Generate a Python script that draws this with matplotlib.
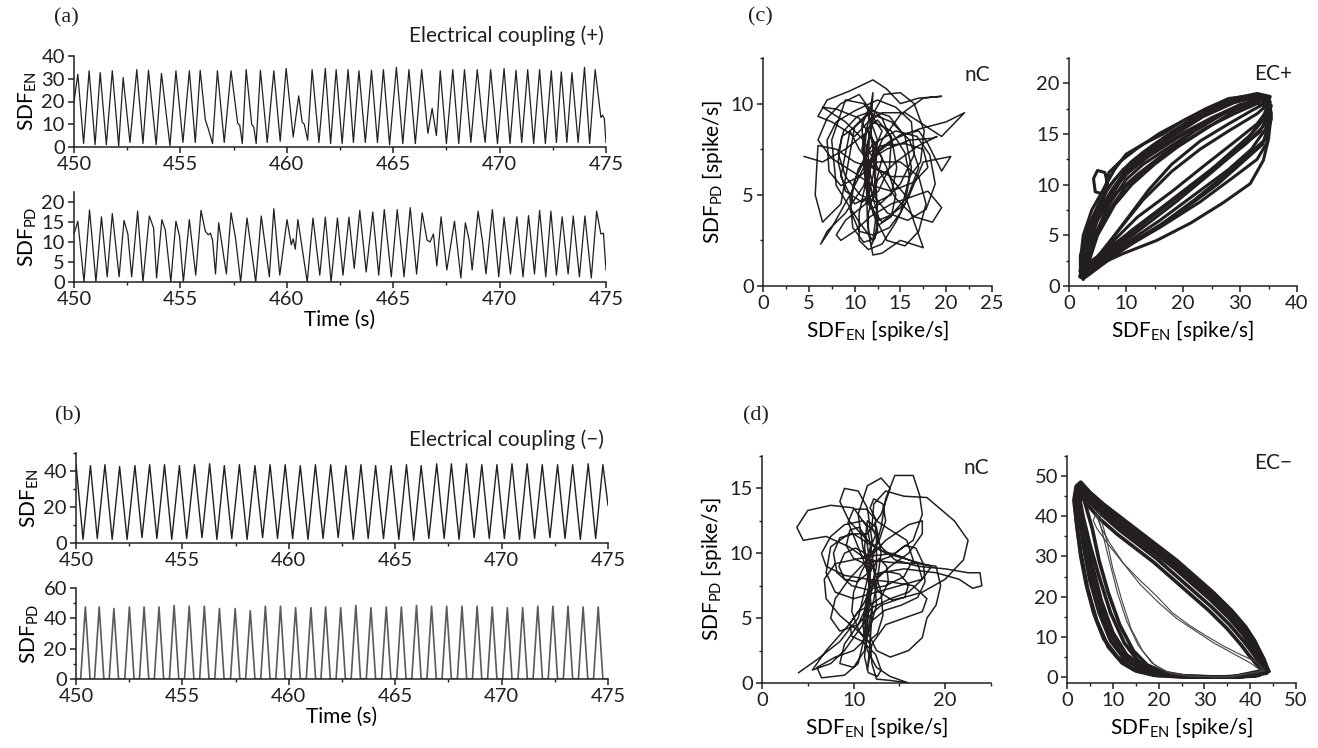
import numpy as np
import matplotlib
matplotlib.use("Agg")
import matplotlib.pyplot as plt
from matplotlib.ticker import MultipleLocator

plt.rcParams['font.family'] = ['Lato', 'DejaVu Sans']
plt.rcParams['mathtext.fontset'] = 'custom'
plt.rcParams['mathtext.rm'] = 'Lato'
plt.rcParams['mathtext.it'] = 'Lato:italic'
plt.rcParams['mathtext.bf'] = 'Lato:bold'

INK = '#231f20'
FS = 15
TICK_FS = 14.5

# ---------------- (a) electrical coupling (+), time traces ----------------
a_en_t = [450.00, 450.18, 450.45, 450.71, 450.99, 451.23, 451.52, 451.80, 452.10, 452.31,
          452.63, 452.95, 453.24, 453.50, 453.86, 454.11, 454.51, 454.79, 455.12, 455.42,
          455.70, 455.93, 456.17, 456.31, 456.51, 456.74, 457.06, 457.38, 457.69, 457.79,
          457.91, 458.09, 458.35, 458.45, 458.56, 458.76, 459.08, 459.39, 459.69, 459.97,
          460.30, 460.56, 460.72, 460.82, 460.98, 461.19, 461.51, 461.81, 462.06, 462.32,
          462.60, 462.88, 463.13, 463.39, 463.69, 463.98, 464.26, 464.54, 464.83, 465.15,
          465.45, 465.74, 466.04, 466.34, 466.63, 466.83, 467.03, 467.21, 467.50, 467.80,
          468.08, 468.35, 468.65, 468.95, 469.20, 469.32, 469.58, 469.90, 470.21, 470.49,
          470.77, 471.04, 471.32, 471.60, 471.88, 472.15, 472.43, 472.67, 472.90, 473.16,
          473.40, 473.69, 473.99, 474.23, 474.49, 474.76, 474.84, 474.92, 475.00]
a_en_v = [20, 32, 1.5, 33.5, 1, 32.7, 1, 33.5, 0.5, 30.5,
          2, 34, 1.5, 33.7, 1, 32.3, 0.5, 33.5, 2, 33.5,
          2, 33.7, 12, 8, 1.5, 33.5, 2, 33.5, 10.5, 9.5,
          1.5, 34, 10, 8.7, 1.5, 33.7, 2, 33.5, 2.5, 34.5,
          4.4, 22.5, 11, 10, 3, 34, 2, 34.5, 1.5, 34,
          1.5, 34, 2, 33.5, 2, 33.7, 2, 34, 1, 35,
          1.5, 34, 1.5, 34, 6, 17, 5, 33.5, 1.5, 34,
          1.5, 34, 2, 34, 11, 2, 34, 1.5, 34.5, 1.5,
          33.7, 2, 34, 1.5, 34, 1.5, 33.5, 2, 33, 2,
          32.7, 2, 35, 1.5, 34, 13, 14, 12.5, 2]

a_pd_t = [450.00, 450.18, 450.47, 450.73, 451.03, 451.29, 451.56, 451.80, 452.12, 452.35,
          452.53, 452.71, 452.99, 453.24, 453.54, 453.74, 453.88, 454.13, 454.29, 454.55,
          454.79, 454.96, 455.14, 455.42, 455.72, 455.97, 456.17, 456.31, 456.41, 456.51,
          456.65, 456.80, 457.16, 457.38, 457.59, 457.83, 458.13, 458.54, 458.80, 459.18,
          459.39, 459.67, 460.01, 460.21, 460.30, 460.40, 460.52, 460.96, 461.23, 461.55,
          461.81, 462.08, 462.38, 462.64, 462.92, 463.17, 463.43, 463.73, 464.04, 464.32,
          464.58, 464.91, 465.19, 465.51, 465.80, 466.10, 466.36, 466.59, 466.73, 466.89,
          467.05, 467.25, 467.52, 467.88, 468.18, 468.39, 468.57, 468.71, 468.99, 469.20,
          469.36, 469.66, 469.96, 470.21, 470.51, 470.81, 471.10, 471.36, 471.64, 471.88,
          472.17, 472.41, 472.67, 472.94, 473.22, 473.46, 473.75, 474.01, 474.31, 474.56,
          474.76, 474.88, 475.00]
a_pd_v = [12, 15.2, 0, 18, 0, 16.3, 1.3, 17.1, 1.3, 15.4,
          12, 1.3, 17.7, 0, 16.5, 13.5, 1, 15.6, 13, 0,
          15.2, 11.4, 0, 15.6, 1.7, 17.9, 12.7, 11.8, 12.2, 10.5,
          2, 14.8, 2, 17.3, 11, 0, 16, 0, 16.5, 1.3,
          18.3, 1.7, 15.6, 9.3, 10.8, 8.2, 15.6, 0, 16, 1.7,
          16.2, 0, 16, 1.7, 16.2, 3.4, 17.9, 2.5, 17.5, 1.7,
          18.1, 1.3, 18.1, 1.3, 18.6, 2, 17.3, 10.5, 10, 12,
          4, 16.3, 3, 15.2, 1, 14.8, 10.5, 3, 17.7, 10,
          2, 18.1, 1.3, 16.2, 2, 16.3, 1.3, 16.6, 2, 17.9,
          1.3, 17.7, 1.7, 16.3, 2, 16.5, 1.3, 16.5, 1, 17.7,
          12, 12.2, 3]

# ---------------- (b) electrical coupling (-), time traces ----------------
b_en_peak_t = [450.00, 450.68, 451.36, 452.05, 452.77, 453.46, 454.16, 454.86, 455.57, 456.28,
               456.97, 457.68, 458.41, 459.12, 459.83, 460.54, 461.25, 461.97, 462.68, 463.39,
               464.08, 464.81, 465.53, 466.22, 466.95, 467.64, 468.35, 469.07, 469.78, 470.49,
               471.20, 471.91, 472.63, 473.34, 474.07, 474.76]
b_en_peak_v = [44, 43, 43.5, 42.5, 43, 43.5, 43.5, 43, 43.5, 44,
               43, 43.5, 43, 43.5, 43.5, 43, 43.5, 43.5, 43, 43.5,
               43, 43, 43.5, 43, 44, 44, 44, 43.5, 43.5, 44,
               44, 43.5, 43.5, 43.5, 44, 43.5]
b_en_trough_t = [450.33, 451.00, 451.70, 452.40, 453.10, 453.80, 454.50, 455.20, 455.92, 456.62,
                 457.32, 458.04, 458.77, 459.47, 460.18, 460.90, 461.61, 462.32, 463.03, 463.73,
                 464.45, 465.17, 465.87, 466.58, 467.30, 468.00, 468.71, 469.42, 470.13, 470.84,
                 471.55, 472.27, 472.98, 473.70, 474.42]
b_en_trough_v = [2, 2.5, 2, 2, 3, 2.5, 2, 2.5, 3, 2,
                 2.5, 2, 3, 2.5, 2.5, 2, 2.5, 3, 2, 2.5,
                 2.5, 2, 1.5, 2.5, 2.5, 2, 3, 2.5, 2.5, 2,
                 2.5, 3, 2.5, 2, 2.5]
b_en_end = (475.0, 21)

b_pd_peak_t = [450.44, 451.09, 451.78, 452.51, 453.20, 453.90, 454.61, 455.32, 456.03, 456.74,
               457.48, 458.19, 458.90, 459.61, 460.32, 461.04, 461.73, 462.44, 463.15, 463.86,
               464.58, 465.29, 466.00, 466.71, 467.42, 468.14, 468.85, 469.56, 470.27, 470.99,
               471.70, 472.41, 473.12, 473.83, 474.54]
b_pd_peak_v = [47.5, 47.5, 46.5, 47.5, 47.5, 47.5, 48.5, 48, 48, 46.5,
               46.5, 45, 48, 48, 47, 47, 47.5, 47, 48.5, 47,
               47.5, 47.5, 48.5, 48, 48, 48, 48, 47.5, 47, 47,
               48, 48, 48, 47.5, 47.5]
b_pd_halfwidth = 0.22  # burst half-duration (s)

# ---------------- (c) phase plots, coupling (+) ----------------
c_nc_path = [(4.5, 7.1), (6.5, 6.8), (9, 7.5), (11.5, 8.5), (13, 7), (12, 5), (10, 4.5), (8.5, 6),
             (9.5, 8.5), (11.5, 9.5), (14, 9), (16, 8), (17, 6.5), (15.5, 4.5), (13, 3.5), (11.5, 4.5),
             (11, 6.5), (11.8, 8.8), (12, 10.6), (11.5, 9), (10, 8.2), (7.5, 9), (6, 9.3), (7, 10.2),
             (9.5, 10.7), (12, 11.3), (13.5, 10.8), (15, 10), (17, 10.3), (19.5, 10.4), (17.5, 10.3),
             (15, 9.4), (13, 8), (11.5, 6.3), (10.5, 4), (10.5, 2.5), (11.5, 2), (13, 2.3), (14.5, 3.5),
             (16, 5), (17.5, 6.8), (20.5, 7.1), (19.5, 6.3), (18, 7.8), (17, 8.5), (15, 8.3), (13, 7.5),
             (11.8, 7), (11, 5.5), (9, 4), (7, 3), (6.3, 2.3), (7.5, 3.2), (9.5, 5), (11.3, 6.8),
             (13.5, 7.5), (16, 8), (18.5, 8.1), (19, 8.2), (17, 7.7), (14.5, 6.8), (12.5, 5.8),
             (11.5, 4), (11.5, 3), (12, 1.7), (13, 1.8), (15, 2.5), (17.5, 2.1), (16.5, 3.5), (15.5, 5),
             (13.5, 6.2), (11.8, 6.5), (10, 6.8), (8, 7.5), (6, 7.7), (5.7, 5), (6.5, 3.5), (8.5, 4.5),
             (10, 8.7), (11.5, 9.4), (12.5, 8), (12, 6), (11.2, 4.5), (9, 3.6), (8, 2.8), (8.5, 2.5),
             (10, 3), (11.7, 3.8), (14, 4.5), (18, 5.2), (19.5, 4.3), (18.5, 3.5), (16.5, 3.8),
             (14.5, 4.8), (12.5, 6.5), (11, 8), (9, 9), (6.5, 9.8), (8, 9.7), (10.5, 9.2), (12, 8),
             (13.5, 6.5), (14.5, 5), (14, 3.8), (12.5, 3.3), (11.5, 5), (11.8, 7), (13, 8.5),
             (11, 10), (9, 10.2), (7.5, 8), (8, 5.5), (10.5, 3.5), (12, 2.5), (12.5, 4.5), (11.8, 6),
             (10.8, 7.5), (11.5, 9), (13, 9.5), (15.5, 9.5), (19.5, 8.2), (22, 9.5),
             (20, 9), (17, 8.6), (14, 8), (12, 7.2), (11.3, 5.5), (11.4, 3.5), (11.8, 2.2), (12.5, 3),
             (12.4, 5), (12, 7.5), (11.5, 9.8), (10.5, 10.5), (8.5, 10), (7, 9.2), (6, 8), (7.5, 7),
             (10, 6.2), (12, 5.5), (14, 5.2), (16.5, 5.7), (18, 6.5), (17.5, 7.5), (15.5, 7.8),
             (13, 7.7), (11.5, 7.3), (10, 5.8), (9.5, 4.2), (10.5, 3), (12, 2.8), (13.8, 3.2), (15, 4),
             (16, 6), (15.5, 7.3), (14, 8.5), (12, 9), (11, 8.2), (11.2, 6), (12, 4), (13.5, 2.5),
             (15.5, 2.2), (17, 3), (17.8, 4.5), (17, 6), (15, 6.8), (12.5, 6.8), (10.5, 6), (8.5, 5.5),
             (7.2, 6.3), (7, 8), (8, 9), (10, 9.6), (12.5, 10.2), (14.5, 9.8), (16.2, 9), (16.5, 7.2),
             (15, 5.6), (13, 4.6), (11.8, 4.2), (11.4, 6), (11.6, 8), (12.2, 9.6), (13.2, 10.5),
             (15, 10.6), (16.5, 10), (17.6, 8.5), (17.2, 6.8), (16, 6), (14, 6), (12, 6.5), (10.5, 7.5),
             (9.5, 8.5), (8.6, 8.2), (8.2, 6.8), (9, 5.2), (10.8, 4.6), (12.6, 5.2), (13.8, 6.5),
             (14, 8), (13, 9.2), (11.6, 9.8), (10.8, 8.8), (11, 7), (11.8, 5.2), (12.6, 3.8),
             (12.2, 2.6), (11, 2.4), (9.8, 3.2), (9.5, 4.8), (10.4, 6.4), (12, 7.8), (14.5, 8.5),
             (16.8, 8.2), (18.2, 7.2), (18.8, 5.6), (17.8, 4.2), (15.8, 3.6), (13.6, 4), (12, 5),
             (11, 6.8), (11.3, 8.6), (12.5, 9.1), (14, 8.2), (14.6, 6.5), (14, 5), (12.4, 4.6),
             (10.6, 5), (9, 6), (8.2, 7.3), (8.8, 8.5), (10.3, 9.3), (12, 9.6), (13.8, 9.3),
             (15.5, 8.2), (16.2, 6.5), (15.6, 4.8), (14, 3.9), (12.6, 3.6), (11.6, 4.6), (11.2, 6.6),
             (11.6, 8.4), (12.4, 7.2), (12.2, 5.6)]

c_ec_loops = [
    [(2.5, 0.8), (4, 1.8), (9.5, 3.2), (15.4, 4.5), (21.3, 6.2), (27, 8.2), (31.8, 10.1), (34.1, 12.4),
     (35, 14.5), (35.5, 17), (35, 18.5), (32, 18.8), (28, 18.5), (24, 17.5), (20, 16.3), (16.5, 15),
     (13, 14), (10, 13), (8, 11.5), (6, 9.5), (4, 7.5), (2.5, 5), (2, 2.5), (2.5, 0.8)],
    [(2, 1), (5, 2.5), (10, 4.2), (16, 6.5), (22, 9), (28, 11.5), (32, 13.5), (34.5, 15.5), (35, 17.5),
     (34, 18.6), (30, 18.4), (25, 17.3), (20, 15.8), (15, 14), (11, 12.3), (8, 10.5), (5.5, 8.5),
     (3.5, 6), (2, 3), (2, 1)],
    [(2.5, 1.2), (6, 3), (11, 5.5), (17, 8), (23, 10.5), (28, 13), (32, 15), (35, 17), (35.3, 18.2),
     (33, 18.4), (29, 17.5), (24, 16.2), (19, 14.6), (14, 12.8), (10, 11), (7, 9), (4.5, 6.5), (3, 4),
     (2.5, 1.2)],
    [(3, 1.5), (7, 4), (12, 6.8), (18, 9.3), (24, 12), (29, 14.2), (33, 16), (35, 17.5), (34.5, 18.8),
     (31, 18.7), (26, 17.6), (21, 16), (16, 14.3), (12, 12.3), (9, 10.3), (6.5, 8), (4, 5.5), (3, 1.5)],
    [(2.5, 1), (6, 3.5), (10, 6.5), (14, 9.5), (18, 12), (23, 14.3), (28, 16), (32, 17.3), (35, 18.2),
     (33, 18.5), (28, 17.3), (22, 15.3), (17, 13.2), (12, 11), (8, 9), (5, 6.5), (3, 3.5), (2.5, 1)],
    [(2, 1), (5, 2.3), (10, 4), (16, 6), (22, 8.5), (27.5, 11), (31.5, 13), (34.5, 14.5), (35.5, 16.5),
     (35, 18.3), (31, 18.6), (26, 17.8), (21, 16.6), (16, 15.1), (12, 13.6), (9, 12.3), (7, 11.2),
     (6.6, 10.2), (5.8, 9.1), (4.6, 9.3), (4.3, 10.6), (5, 11.4), (6.3, 11.2), (6.8, 10), (6, 8.5),
     (4, 6), (2.5, 3.5), (2, 1)],
    [(2.5, 0.7), (8, 3), (14, 5.3), (20, 7.5), (26, 10), (31, 12.5), (34, 14), (35, 16), (34.8, 17.8),
     (32, 18.2), (27, 17), (22, 15.3), (17, 13.5), (13, 12), (10, 10.5), (7, 8), (4.5, 5), (2.5, 0.7)],
    [(3, 1.5), (8, 5), (13, 8.5), (18, 11.3), (23, 13.5), (28, 15.3), (33, 17), (35, 18), (33.5, 18.3),
     (29, 17.3), (24, 15.5), (19, 13.7), (15, 12), (11, 10), (8, 8), (5, 5), (3, 1.5)],
    [(2, 1.5), (4, 2.5), (9, 4.6), (15, 7.2), (21, 9.8), (27, 12.4), (31, 14.3), (34, 16.5), (35.3, 18.7),
     (33, 19), (28, 18.4), (23, 17), (18, 15.2), (13, 13.2), (9.5, 11.5), (7, 9.8), (5, 7.5), (3, 4.5),
     (2, 1.5)],
    [(2.5, 1), (9, 3.5), (16, 5.8), (23, 8.3), (29, 10.8), (33, 12.5), (34.7, 14.1), (35.2, 16),
     (35, 17.7), (33, 18), (29, 17), (24, 15.6), (19, 13.8), (14, 11.8), (10, 9.8), (7, 7.5), (4.5, 4.5),
     (2.5, 1)],
    [(2, 0.9), (7, 3.2), (13, 5.8), (19, 8.4), (25, 11.2), (30, 13.6), (33.5, 15.2), (35.2, 17.2),
     (34.2, 18.4), (30, 17.9), (25, 16.6), (20, 15.1), (15, 13.4), (11.5, 12), (8.5, 10.2), (6, 7.8),
     (3.5, 4.8), (2, 0.9)],
    [(3, 1.2), (8, 3.8), (14, 6.6), (20, 9.2), (26, 11.8), (31, 14), (34.5, 16), (35.5, 17.8),
     (33.8, 18.7), (29, 18.1), (23.5, 16.7), (18.5, 14.9), (14, 13.3), (10.5, 11.8), (7.5, 9.5),
     (5.2, 7), (3.5, 3.8), (3, 1.2)],
]

# ---------------- (d) phase plots, coupling (-) ----------------
d_nc_path = [(4, 0.8), (6, 1.8), (8.5, 3.2), (10.5, 5), (11.5, 8), (12, 11), (11.5, 13.5), (10.5, 14.8),
             (9, 15), (8.5, 14), (9.5, 12.5), (11.5, 11), (13.5, 10), (16, 9.5), (18.5, 9), (17.5, 8),
             (15, 7.5), (12.5, 7), (10, 6.5), (8, 7), (7, 8.5), (7.5, 10.5), (9.5, 11.5), (11.5, 11.5),
             (13, 13), (14, 15), (13, 15.8), (11.5, 15.2), (10.5, 13), (11, 10.5), (11.8, 8), (11.5, 5.5),
             (11, 3), (10.5, 1.5), (9, 0.6), (6.5, 0.4), (6, 1.2), (8, 2), (10, 2.5), (11.5, 3.5),
             (12.5, 6), (12.2, 9), (11.5, 12), (10, 13.5), (7.5, 13.7), (5, 13.3), (3.8, 12), (4.5, 11),
             (7, 11.3), (9.5, 10.5), (11.5, 9.5), (14, 9.3), (17, 9.2), (19, 9), (19.5, 7.5), (19, 6),
             (18, 5), (17.5, 3.5), (16, 2.5), (14, 2), (12.5, 2.5), (11.5, 4), (11.5, 6.5), (12, 9.5),
             (13, 12), (13.5, 14.2), (14.5, 16), (16.5, 16), (17.2, 14.5), (17.5, 13), (16.5, 11),
             (14.5, 10), (12, 9.8), (10, 9.5), (8, 9.2), (6.8, 8), (7, 6.5), (8.5, 5.2), (10.5, 4),
             (11.8, 3), (12, 1.5), (12.5, 0.3), (14, 0.2), (16, 0), (14, 0.5), (12.5, 1.2), (11.5, 2.5),
             (11, 4.5), (11.5, 7), (13, 8.5), (15.5, 8.8), (19, 8.5), (21.5, 8), (23, 7.3), (24, 7.5),
             (23.8, 8.5), (22.5, 8.5), (20, 8.8), (17, 9), (14.5, 9.5), (13, 10.5), (12, 12),
             (12.2, 13.8), (13.5, 14.8), (15.5, 14.4), (18, 14.3), (21, 12.5), (22.5, 11), (22, 9.5),
             (20, 8), (17.5, 7), (15, 6.5), (13, 6), (11.5, 5), (10, 3.5), (9, 2.5), (7.5, 1.5),
             (5.5, 1), (7, 2.5), (9.5, 4.5), (11, 6), (12.5, 8), (14, 9), (16, 10), (17.5, 11.5),
             (17.5, 12.5), (16, 12.2), (13.5, 11), (11.5, 9.5), (9.5, 8), (8, 6.5), (7.5, 5), (8.5, 4),
             (10.5, 4.5), (11.8, 6.5), (12.5, 9), (12.5, 11.5), (11, 12.5), (9, 12.2), (7.5, 11.3),
             (6.5, 10), (7, 9), (9, 8.3), (11.5, 8), (14, 7.8), (16.5, 7.5), (18, 6.5), (17.5, 5.5),
             (15.5, 5), (13.5, 4.5), (12, 3), (11.5, 1),
             (11.8, 3), (12, 5.5), (11.6, 8), (11.2, 10.5), (11.5, 12.5), (12.5, 12), (13, 10),
             (12.5, 7.5), (11.8, 5), (11.2, 2.5), (10, 1.2), (8.5, 1.5), (9, 3), (10.5, 4.5), (12, 5.8),
             (14, 6.5), (16, 7), (17.5, 8), (17, 9.2), (15, 9.8), (13, 10.2), (11.5, 10.8), (10, 11.5),
             (8.5, 11.2), (7.8, 10), (8.2, 8.5), (9.8, 7.5), (11.5, 7.2), (13.5, 7.5), (15.5, 8.2),
             (16.5, 9.5), (15.8, 11), (14, 11.8), (12.5, 12.5), (11.8, 13.5), (12.2, 14.2), (13.2, 13.8),
             (13.5, 12.5), (12.8, 11), (11.8, 9.8), (10.8, 8.5), (10, 7), (9.8, 5.5), (10.6, 4),
             (11.6, 3.2), (12.6, 3.8), (13.2, 5.2), (13, 7), (12.2, 8.8), (11.3, 10), (10.2, 10.4),
             (9, 10), (8.4, 9), (9, 8), (10.4, 7.8), (11.8, 8.6), (12.8, 9.6), (13.6, 9), (13.8, 7.8),
             (13, 6.6), (11.8, 6), (10.5, 5.5), (9.6, 4.6), (9.8, 3.6), (11, 3.2), (12.4, 2.2), (13, 1),
             (12.6, 0.5), (11.6, 0.8), (11.2, 2), (11.4, 4), (11.8, 6.5), (11.8, 9), (11.4, 11.2),
             (10.6, 12), (9.6, 11.8), (9.2, 10.6), (10, 9.6), (11.2, 9.2), (12.6, 9.4), (14.2, 9.8),
             (15.6, 10.6), (16.8, 10.4), (17.6, 9.2), (17.8, 7.8), (17, 6.6), (15.2, 6), (13.4, 5.6),
             (12, 4.8), (11.4, 3.6), (11.2, 5), (11.6, 7.2), (12.4, 8.4), (13.6, 8.6), (15, 8.4),
             (16, 7.6), (15.6, 6.6), (14.2, 6.4), (12.8, 7), (11.8, 8), (11, 9.6), (10.2, 11),
             (9.4, 12.4), (10, 13.4), (11.4, 13.4), (12.4, 12.6), (12.4, 11.4), (11.8, 10.4), (11.2, 9)]

d_ec_loops = [
    [(43.5, 2), (42.5, 5.5), (41, 9), (39, 12.5), (36, 16.5), (32, 21), (28, 25), (24, 29), (20, 32.5),
     (16, 36), (12, 39.5), (8, 43), (5, 46), (3, 48.5), (2, 47.5), (1.5, 44), (2, 39), (3, 31), (4.5, 22),
     (6.5, 14), (9, 7.5), (12, 3.5), (15, 1.5), (19, 0.4), (25, 0), (32, 0), (38, 0.1), (42, 0.4), (43.5, 2)],
    [(43.5, 1.5), (42.5, 5), (41, 8), (39, 11.5), (36, 15.5), (32, 20), (28, 24), (24, 28), (20, 31.5),
     (16, 35), (12, 38.5), (8, 42.5), (5, 45.5), (3, 48), (2, 46.5), (2.5, 41), (3.5, 33), (5, 24), (7, 16),
     (9.5, 9), (12.5, 4.5), (16, 2), (20, 0.6), (26, 0.1), (34, 0), (40, 0.2), (43.5, 1.5)],
    [(43, 1.5), (42.5, 4), (41, 7), (39, 10.5), (36, 14.5), (32, 19), (28, 23), (24, 27), (20, 30.5),
     (16, 34), (12, 37.5), (8, 41.5), (5, 44.5), (3, 47), (2.5, 45), (3, 40), (4.5, 31), (6, 22),
     (8.5, 13), (11.5, 6.5), (14.5, 3), (18, 1), (23, 0.2), (30, 0), (38, 0), (43, 1.5)],
    [(43.5, 1), (42, 3.5), (40.5, 6), (38.5, 9), (35.5, 13), (31.5, 17.5), (27.5, 21.5), (23.5, 25.5),
     (19.5, 29.5), (15.5, 33), (11.5, 36.5), (7.5, 40.5), (4.5, 44), (2.5, 46.5), (3, 42), (4, 36),
     (5.5, 28), (7.5, 19), (10, 11), (13, 5.5), (16.5, 2.5), (21, 0.8), (27, 0.1), (35, 0), (41, 0.3),
     (43.5, 1)],
    [(43, 1), (41.5, 3), (40, 5), (38, 8), (35, 12), (31, 16.5), (27, 20.5), (23, 24.5), (19, 28.5),
     (15, 32), (11, 35.5), (7, 39.5), (4, 43.5), (2.5, 46), (3.5, 40), (5, 33), (7, 25), (9.5, 16),
     (12.5, 8.5), (15.5, 4), (19, 1.5), (24, 0.3), (31, 0), (38, 0.1), (43, 1)],
    [(44, 1.5), (43, 4.5), (41.5, 7.5), (39.5, 11), (36.5, 15), (32.5, 19.5), (28.5, 23.5), (24.5, 27.5),
     (20.5, 31), (16.5, 34.5), (12.5, 38), (8.5, 42), (5.5, 45), (3, 47.5), (4, 43), (5.5, 37), (7, 29),
     (9, 21), (11.5, 13), (14.5, 6.5), (17.5, 3), (21, 1.2), (26, 0.2), (33, 0), (40, 0.2), (44, 1.5)],
    [(43, 1.2), (42, 4), (40.5, 7), (38.5, 10.5), (35.5, 14.5), (31.5, 19), (27.5, 23), (23.5, 27),
     (19.5, 30.5), (15.5, 34), (11.5, 37.5), (7.5, 41.5), (4.5, 44.5), (2.5, 47), (1.8, 45.5), (1.8, 42),
     (2.2, 37), (3, 30), (4.2, 23), (5.8, 16), (8, 9.5), (11, 5), (14.4, 2), (19.5, 0.4), (26.8, 0),
     (35, 0), (41, 0.2), (43, 1.2)],
    [(43.5, 1.8), (42.5, 4.8), (41, 8), (39, 11.2), (36, 15.2), (32, 19.7), (28, 23.7), (24, 27.6),
     (20, 31.2), (16, 34.6), (12, 38), (8, 42), (5, 45), (3, 47.5), (2.2, 46), (2.5, 41.5), (3.8, 34.5),
     (5.5, 26), (7.5, 18), (10, 11), (13, 5.5), (16.5, 2.3), (21, 0.6), (28, 0), (36, 0), (43.5, 1.8)],
]
d_ec_inner_loops = [
    [(43, 1.5), (41.5, 3.7), (38, 5.5), (34, 7.8), (30, 10.5), (26.8, 12.8), (23, 16), (19.5, 20.2),
     (16, 24), (12.2, 28.4), (9, 33), (6.5, 37), (5.7, 39), (6.5, 41), (7.5, 37), (9, 30), (11, 21),
     (13, 14), (15.5, 8), (18.5, 3.5), (22, 1.2), (27, 0.2), (35, 0), (43, 1.5)],
    [(42.5, 1.5), (40, 3.5), (36, 6), (32, 8.5), (28, 11.5), (24, 14.5), (20, 18.5), (16, 23),
     (12.5, 28), (9.5, 33), (7.5, 37), (6.5, 40), (7, 41), (8.5, 35), (10, 27), (12, 19), (14, 12),
     (16.5, 6.5), (19.5, 2.5), (23, 0.8), (28, 0.1), (36, 0), (42.5, 1.5)],
]

W, H = 1318, 748
fig = plt.figure(figsize=(W / 100, H / 100), dpi=100)


def box(left, right, top, bottom):
    return [left / W, 1 - bottom / H, (right - left) / W, (bottom - top) / H]


def style(ax, xmaj, xmin, ymaj, ymin):
    for s in ['top', 'right']:
        ax.spines[s].set_visible(False)
    for s in ['left', 'bottom']:
        ax.spines[s].set_linewidth(1.1)
        ax.spines[s].set_color(INK)
    ax.xaxis.set_major_locator(MultipleLocator(xmaj))
    ax.yaxis.set_major_locator(MultipleLocator(ymaj))
    if xmin:
        ax.xaxis.set_minor_locator(MultipleLocator(xmin))
    if ymin:
        ax.yaxis.set_minor_locator(MultipleLocator(ymin))
    ax.tick_params(which='major', direction='out', length=4.5, width=1.1, labelsize=TICK_FS,
                   pad=2, colors=INK)
    ax.tick_params(which='minor', direction='out', length=2.5, width=1.0, colors=INK)


def draw_path(ax, pts, **kw):
    p = np.array(pts)
    ax.plot(p[:, 0], p[:, 1], **kw)


sub_en = r'SDF$_{\mathrm{EN}}$'
sub_pd = r'SDF$_{\mathrm{PD}}$'

# (a)
ax = fig.add_axes(box(74, 606, 56, 147))
ax.plot(a_en_t, a_en_v, color=INK, lw=0.9)
ax.set_xlim(450, 475)
ax.set_ylim(0, 40)
style(ax, 5, 2.5, 10, None)
ax.set_ylabel(sub_en, fontsize=FS, labelpad=2)

ax = fig.add_axes(box(74, 606, 192, 282))
ax.plot(a_pd_t, a_pd_v, color=INK, lw=0.9)
ax.set_xlim(450, 475)
ax.set_ylim(0, 22.5)
style(ax, 5, 2.5, 5, None)
ax.set_ylabel(sub_pd, fontsize=FS, labelpad=2)
ax.set_xlabel('Time (s)', fontsize=FS, labelpad=1)

# (b)
en_t = [b_en_peak_t[0]]
en_v = [b_en_peak_v[0]]
for i in range(len(b_en_trough_t)):
    en_t += [b_en_trough_t[i], b_en_peak_t[i + 1]]
    en_v += [b_en_trough_v[i], b_en_peak_v[i + 1]]
en_t.append(b_en_end[0])
en_v.append(b_en_end[1])

ax = fig.add_axes(box(76, 608, 453, 543))
ax.plot(en_t, en_v, color=INK, lw=1.0)
ax.set_xlim(450, 475)
ax.set_ylim(0, 50)
style(ax, 5, 2.5, 20, 10)
ax.set_ylabel(sub_en, fontsize=FS, labelpad=2)

pd_t = [450.0]
pd_v = [0]
for tp, vp in zip(b_pd_peak_t, b_pd_peak_v):
    pd_t += [tp - b_pd_halfwidth, tp, tp + b_pd_halfwidth]
    pd_v += [0, vp, 0]
pd_t.append(475.0)
pd_v.append(0)

ax = fig.add_axes(box(76, 608, 588, 679))
ax.plot(pd_t, pd_v, color='#5a5a5a', lw=1.2)
ax.set_xlim(450, 475)
ax.set_ylim(0, 60)
style(ax, 5, 2.5, 20, 10)
ax.set_ylabel(sub_pd, fontsize=FS, labelpad=2)
ax.set_xlabel('Time (s)', fontsize=FS, labelpad=1)

# (c)
ax = fig.add_axes(box(763, 992, 58, 286))
draw_path(ax, c_nc_path, color=INK, lw=1.1)
ax.set_xlim(0, 25)
ax.set_ylim(0, 12.5)
style(ax, 5, 2.5, 5, 2.5)
ax.set_ylabel(sub_pd + ' [spike/s]', fontsize=FS)
ax.set_xlabel(sub_en + ' [spike/s]', fontsize=FS)
ax.text(0.99, 0.925, 'nC', transform=ax.transAxes, ha='right', va='center', fontsize=FS, color=INK)

ax = fig.add_axes(box(1069, 1297, 58, 286))
for loop in c_ec_loops:
    draw_path(ax, loop, color=INK, lw=2.2)
ax.set_xlim(0, 40)
ax.set_ylim(0, 22.5)
style(ax, 10, 5, 5, 2.5)
ax.set_xlabel(sub_en + ' [spike/s]', fontsize=FS)
ax.text(0.98, 0.93, 'EC+', transform=ax.transAxes, ha='right', va='center', fontsize=FS, color=INK)

# (d)
ax = fig.add_axes(box(762, 991, 456, 683))
draw_path(ax, d_nc_path, color=INK, lw=1.1)
ax.set_xlim(0, 25)
ax.set_ylim(0, 17.5)
style(ax, 10, 5, 5, 2.5)
ax.set_ylabel(sub_pd + ' [spike/s]', fontsize=FS)
ax.set_xlabel(sub_en + ' [spike/s]', fontsize=FS)
ax.text(0.99, 0.947, 'nC', transform=ax.transAxes, ha='right', va='center', fontsize=FS, color=INK)

ax = fig.add_axes(box(1067, 1296, 456, 683))
for loop in d_ec_loops:
    draw_path(ax, loop, color=INK, lw=2.6)
for loop in d_ec_inner_loops:
    draw_path(ax, loop, color='#444444', lw=0.8)
ax.set_xlim(0, 50)
ax.set_ylim(-1.5, 55)
style(ax, 10, 5, 10, 5)
ax.set_xlabel(sub_en + ' [spike/s]', fontsize=FS)
ax.text(0.985, 0.97, 'EC\u2212', transform=ax.transAxes, ha='right', va='center', fontsize=FS, color=INK)

# panel labels and headings
for lab, x, y in [('(a)', 66, 18), ('(b)', 68, 416), ('(c)', 760, 17), ('(d)', 756, 416)]:
    fig.text(x / W, 1 - y / H, lab, ha='center', va='center', fontsize=16,
             family=['Liberation Serif', 'DejaVu Serif'], color=INK)
fig.text(604 / W, 1 - 36 / H, 'Electrical coupling (+)', ha='right', va='center', fontsize=FS, color=INK)
fig.text(604 / W, 1 - 440 / H, 'Electrical coupling (\u2212)', ha='right', va='center', fontsize=FS, color=INK)

fig.savefig('out.png', dpi=100)
